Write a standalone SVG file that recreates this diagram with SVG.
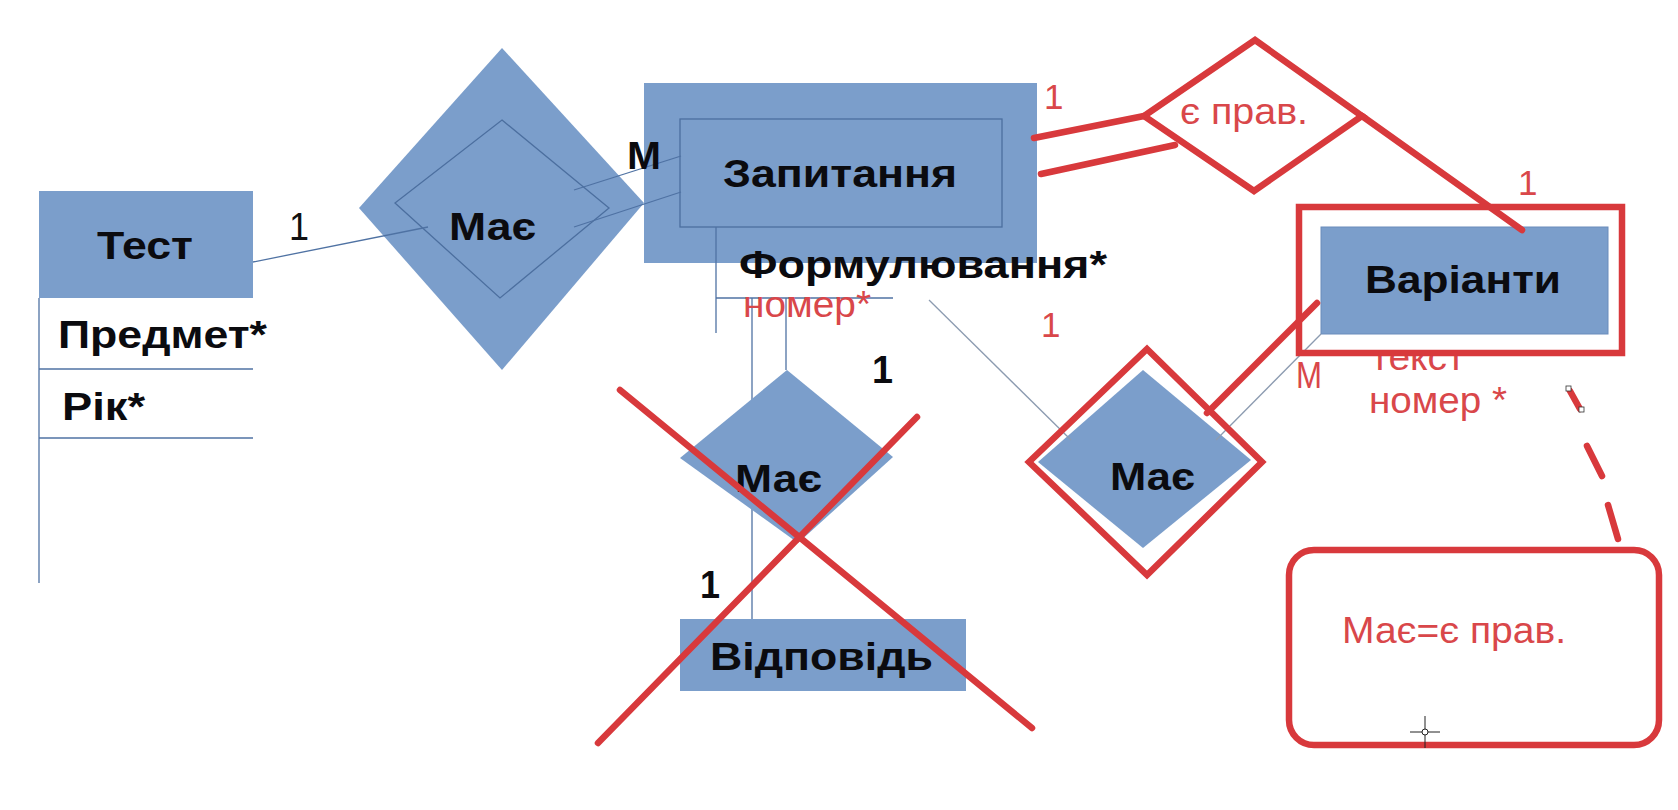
<svg xmlns="http://www.w3.org/2000/svg" width="1678" height="810" viewBox="0 0 1678 810">
  <style>
    .ent { fill: #7b9ecb; }
    .frame { fill: none; stroke: #4c6f9f; stroke-width: 1.3; }
    .thin { stroke: #4f72a3; stroke-width: 1.3; fill: none; }
    .grey { stroke: #8c9bb0; stroke-width: 1.3; fill: none; }
    .red { stroke: #d8393c; stroke-width: 6.5; fill: none; stroke-linecap: round; stroke-linejoin: miter; }
    .lbl { font-family: "Liberation Sans", Arial, sans-serif; font-weight: bold; font-size: 39px; fill: #0b0b0f; }
    .num { font-family: "Liberation Sans", Arial, sans-serif; font-size: 38px; fill: #111; }
    .note { font-family: "Liberation Sans", Arial, sans-serif; font-size: 37px; fill: #d9474a; }
    .rnum { font-family: "Liberation Sans", Arial, sans-serif; font-size: 35px; fill: #d9474a; }
  </style>
  <rect width="1678" height="810" fill="#ffffff"/>

  <!-- entity: Тест with its attribute list -->
  <g id="test">
    <rect class="ent" x="39" y="191" width="214" height="107"/>
    <text class="lbl" x="97" y="259" textLength="96" lengthAdjust="spacingAndGlyphs">Тест</text>
    <line class="thin" x1="39" y1="298" x2="39" y2="583"/>
    <line class="thin" x1="39" y1="369" x2="253" y2="369"/>
    <line class="thin" x1="39" y1="438" x2="253" y2="438"/>
    <text class="lbl" x="58" y="348" textLength="209" lengthAdjust="spacingAndGlyphs">Предмет*</text>
    <text class="lbl" x="62" y="420" textLength="83" lengthAdjust="spacingAndGlyphs">Рік*</text>
  </g>

  <!-- weak relationship: Має between Тест and Запитання -->
  <g id="rel-test-question">
    <polygon class="ent" points="502,48 644,203 502,370 359,208"/>
    <polygon class="frame" points="502,120 609,208 500,298 395,203"/>
    <text class="lbl" x="449" y="240" textLength="87" lengthAdjust="spacingAndGlyphs">Має</text>
  </g>

  <!-- weak entity: Запитання -->
  <g id="question">
    <rect class="ent" x="644" y="83" width="393" height="180"/>
    <rect class="frame" x="680" y="119" width="322" height="108"/>
    <text class="lbl" x="723" y="187" textLength="234" lengthAdjust="spacingAndGlyphs">Запитання</text>
  </g>

  <!-- relationship: Має between Запитання and Відповідь -->
  <g id="rel-question-answer">
    <line class="thin" x1="752" y1="298" x2="752" y2="619"/>
    <polygon class="ent" points="787,370 893,457 798,543 680,458"/>
    <text class="lbl" x="735" y="492" textLength="87" lengthAdjust="spacingAndGlyphs">Має</text>
  </g>

  <!-- entity: Відповідь -->
  <g id="answer">
    <rect class="ent" x="680" y="619" width="286" height="72"/>
    <text class="lbl" x="710" y="670" textLength="223" lengthAdjust="spacingAndGlyphs">Відповідь</text>
  </g>

  <!-- relationship: Має between Запитання and Варіанти -->
  <g id="rel-question-options">
    <polygon class="ent" points="1143,370 1251,460 1143,548 1038,462"/>
    <text class="lbl" x="1110" y="490" textLength="85" lengthAdjust="spacingAndGlyphs">Має</text>
  </g>

  <!-- entity: Варіанти -->
  <g id="options">
    <rect class="ent" x="1321" y="227" width="287" height="107" stroke="#6a8cbb" stroke-width="1"/>
    <text class="lbl" x="1365" y="293" textLength="196" lengthAdjust="spacingAndGlyphs">Варіанти</text>
  </g>

  <!-- connectors and cardinalities -->
  <g id="connectors">
    <line class="thin" x1="253" y1="262" x2="428" y2="227"/>
    <line class="thin" x1="574" y1="190" x2="681" y2="156"/>
    <line class="thin" x1="574" y1="227" x2="681" y2="192"/>
    <line class="thin" x1="716" y1="227" x2="716" y2="333"/>
    <line class="thin" x1="716" y1="298" x2="893" y2="298"/>
    <line class="thin" x1="786" y1="298" x2="786" y2="370"/>
    <line class="grey" x1="929" y1="300" x2="1071" y2="440"/>
    <line class="grey" x1="1321" y1="334" x2="1216" y2="440"/>

    <text class="num" x="289" y="240" textLength="20" lengthAdjust="spacingAndGlyphs">1</text>
    <text class="lbl" x="627" y="169" textLength="34" lengthAdjust="spacingAndGlyphs">M</text>
    <text class="lbl" x="872" y="383" textLength="21" lengthAdjust="spacingAndGlyphs">1</text>
    <text class="lbl" x="700" y="598" textLength="20" lengthAdjust="spacingAndGlyphs">1</text>
  </g>

  <!-- attributes of Запитання -->
  <g id="question-attrs">
    <text class="lbl" x="739" y="278" textLength="368" lengthAdjust="spacingAndGlyphs">Формулювання*</text>
    <text class="note" x="743" y="317" textLength="128" lengthAdjust="spacingAndGlyphs">номер*</text>
  </g>

  <!-- red corrections -->
  <g id="corrections">
    <!-- crossed out branch -->
    <line class="red" x1="620" y1="390" x2="1032" y2="728"/>
    <line class="red" x1="917" y1="417" x2="598" y2="743"/>

    <!-- identifying relationship є прав. -->
    <line class="red" x1="1034" y1="138" x2="1144" y2="116"/>
    <line class="red" x1="1041" y1="174" x2="1175" y2="145"/>
    <polygon class="red" points="1255,40 1362,116 1254,191 1144,116"/>
    <line class="red" x1="1362" y1="116" x2="1522" y2="230"/>
    <text class="note" x="1180" y="124" textLength="128" lengthAdjust="spacingAndGlyphs">є прав.</text>
    <text class="rnum" x="1044" y="109">1</text>
    <text class="rnum" x="1518" y="195">1</text>

    <!-- attributes of Варіанти -->
    <text class="note" x="1371" y="370" textLength="94" lengthAdjust="spacingAndGlyphs">текст</text>
    <text class="note" x="1369" y="413" textLength="138" lengthAdjust="spacingAndGlyphs">номер *</text>

    <!-- weak entity frame around Варіанти -->
    <rect class="red" x="1299" y="207" width="323" height="146" stroke-linecap="butt"/>

    <!-- identifying relationship frame -->
    <polygon class="red" points="1147,349 1262,462 1147,575 1029,462"/>
    <line class="red" x1="1317" y1="303" x2="1207" y2="413"/>
    <text class="rnum" x="1041" y="337">1</text>
    <text class="note" x="1296" y="388" textLength="26" lengthAdjust="spacingAndGlyphs">M</text>

    <!-- dashed leader to the note -->
    <line class="red" x1="1570" y1="391" x2="1580" y2="409" stroke-width="5"/>
    <rect x="1566" y="386" width="5" height="5" fill="#fff" stroke="#333" stroke-width="0.8"/>
    <rect x="1579" y="407" width="5" height="5" fill="#fff" stroke="#333" stroke-width="0.8"/>
    <line class="red" x1="1587" y1="446" x2="1602" y2="476" stroke-width="5"/>
    <line class="red" x1="1608" y1="505" x2="1618" y2="539" stroke-width="5"/>

    <!-- note -->
    <rect class="red" x="1289" y="550" width="370" height="195" rx="25" ry="25"/>
    <text class="note" x="1342" y="643" textLength="224" lengthAdjust="spacingAndGlyphs">Має=є прав.</text>

    <!-- pointer crosshair -->
    <line x1="1425" y1="716" x2="1425" y2="748" stroke="#222" stroke-width="1"/>
    <line x1="1410" y1="732" x2="1440" y2="732" stroke="#222" stroke-width="1"/>
    <circle cx="1425" cy="732" r="3" fill="#fff" stroke="#222" stroke-width="1"/>
  </g>
</svg>
